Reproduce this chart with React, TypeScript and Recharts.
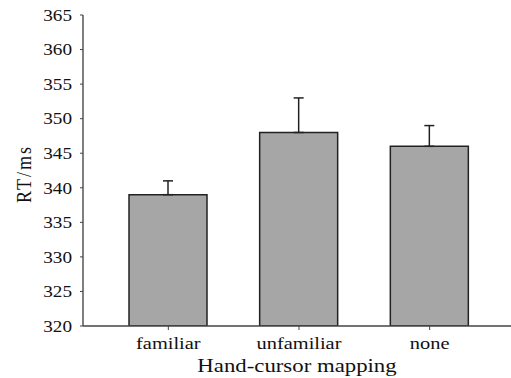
import React from 'react';
import { BarChart, Bar, XAxis, YAxis, ErrorBar } from 'recharts';

const categories = ['familiar', 'unfamiliar', 'none'];
const meanRT = [339, 348, 346];
const errorUp = [2, 5, 3];
const yTicks = [320, 325, 330, 335, 340, 345, 350, 355, 360, 365];

const data = categories.map((name, i) => ({
  name,
  rt: meanRT[i],
  err: [0, errorUp[i]],
}));

const FONT = '"Liberation Serif", "Times New Roman", serif';
const STRETCH = 1.2;

const YTick = ({ x, y, payload }: any) => (
  <text
    transform={`translate(${x},${y}) scale(${STRETCH},1)`}
    textAnchor="end"
    dy="0.36em"
    fontFamily={FONT}
    fontSize={16}
    fill="#111"
  >
    {payload.value}
  </text>
);

const XTick = ({ x, y, payload }: any) => (
  <text
    transform={`translate(${x},${y + 17}) scale(${STRETCH},1)`}
    textAnchor="middle"
    fontFamily={FONT}
    fontSize={17}
    fill="#111"
  >
    {payload.value}
  </text>
);

const XLabel = ({ viewBox }: any) => (
  <text
    transform={`translate(${viewBox.x + viewBox.width / 2},${viewBox.y + 46}) scale(${STRETCH},1)`}
    textAnchor="middle"
    fontFamily={FONT}
    fontSize={19}
    fill="#111"
  >
    Hand-cursor mapping
  </text>
);

const YLabel = () => (
  <text
    transform={`translate(31,174) scale(${STRETCH},1) rotate(-90)`}
    textAnchor="middle"
    fontFamily={FONT}
    fontSize={18}
    letterSpacing={2}
    fill="#111"
  >
    RT/ms
  </text>
);

export default function App() {
  return (
    <div style={{ position: 'absolute', left: 0, top: 0, background: '#fff' }}>
      <BarChart
        width={511}
        height={378}
        data={data}
        margin={{ top: 15, right: 0, bottom: 0, left: 0 }}
      >
        <XAxis
          dataKey="name"
          height={52}
          padding={{ left: 20, right: 16 }}
          tickSize={4}
          tickMargin={2}
          axisLine={{ stroke: '#444', strokeWidth: 1.5 }}
          tickLine={{ stroke: '#444' }}
          tick={<XTick />}
          label={<XLabel />}
        />
        <YAxis
          width={83}
          domain={[320, 365]}
          ticks={yTicks}
          interval={0}
          allowDataOverflow
          tickSize={3}
          tickMargin={8}
          axisLine={{ stroke: '#555', strokeWidth: 1.5 }}
          tickLine={{ stroke: '#444' }}
          tick={<YTick />}
          label={<YLabel />}
        />
        <Bar
          dataKey="rt"
          fill="#a6a6a6"
          stroke="#222"
          strokeWidth={1.5}
          barSize={78}
          isAnimationActive={false}
        >
          <ErrorBar dataKey="err" width={5} stroke="#222" strokeWidth={1.5} isAnimationActive={false} />
        </Bar>
      </BarChart>
    </div>
  );
}
